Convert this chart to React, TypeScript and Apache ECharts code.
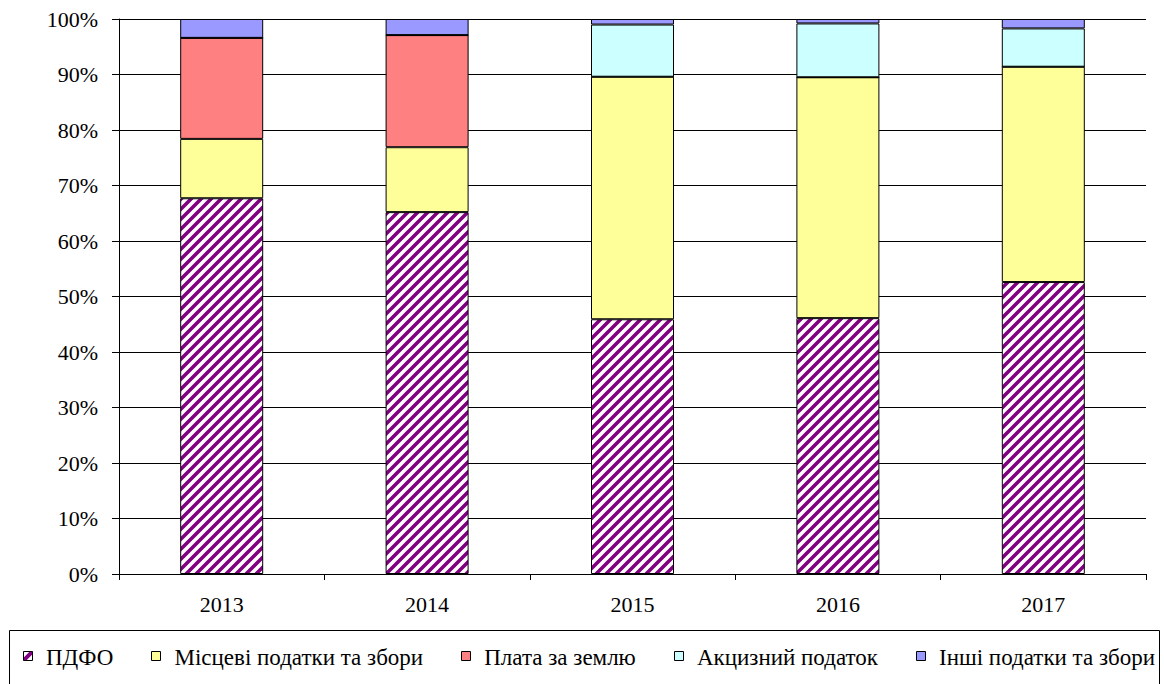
import React, { useEffect, useRef } from "react";
import * as echarts from "echarts";

const years = ["2013", "2014", "2015", "2016", "2017"];
const pdfo = [67.7, 65.2, 45.9, 46.1, 52.6];
const local = [10.7, 11.7, 43.7, 43.4, 38.8];
const land = [18.2, 20.2, 0, 0, 0];
const excise = [0, 0, 9.4, 9.7, 6.9];
const other = [3.4, 2.9, 1.0, 0.8, 1.7];
const seriesNames = [
  "ПДФО",
  "Місцеві податки та збори",
  "Плата за землю",
  "Акцизний податок",
  "Інші податки та збори",
];
const yTicks = [0, 10, 20, 30, 40, 50, 60, 70, 80, 90, 100];

function makeHatch(s: number, lw: number): HTMLCanvasElement {
  const c = document.createElement("canvas");
  c.width = s;
  c.height = s;
  const ctx = c.getContext("2d")!;
  ctx.fillStyle = "#ffffff";
  ctx.fillRect(0, 0, s, s);
  ctx.strokeStyle = "#800080";
  ctx.lineWidth = lw;
  ctx.beginPath();
  for (let k = -1; k <= 1; k++) {
    ctx.moveTo(k * s - 1, s + 1);
    ctx.lineTo(k * s + s + 1, -1);
  }
  ctx.stroke();
  return c;
}

export default function App() {
  const ref = useRef<HTMLDivElement>(null);
  useEffect(() => {
    document.body.style.margin = "0";
    const chart = echarts.init(ref.current!, null, { renderer: "svg" });
    const font = "Liberation Serif";
    const hatch = makeHatch(10, 3.6);
    const legendHatch = makeHatch(12, 4);
    const colors: any[] = [
      { image: hatch, repeat: "repeat" },
      "#FFFF99",
      "#FF8080",
      "#CCFFFF",
      "#9999FF",
    ];
    const dataSets = [pdfo, local, land, excise, other];

    const fontSize = 23;
    const fonts = [
      fontSize + "px Liberation Serif",
      fontSize + "px serif",
      fontSize + "px Times New Roman",
      fontSize + "px Liberation Serif",
      fontSize + "px Liberation Serif",
    ];
    const mctx = document.createElement("canvas").getContext("2d")!;
    mctx.font = fontSize + "px " + font;
    const widths = seriesNames.map((n) => mctx.measureText(n).width);
    const startX = 23;
    const endX = 1155;
    const marker = 9;
    const textGap = 14;
    const sumW = widths.reduce((a, b) => a + b, 0);
    const itemGap = (endX - startX - seriesNames.length * (marker + textGap) - sumW) / (seriesNames.length - 1);
    const legendEls: any[] = [];
    let cx = startX;
    seriesNames.forEach((n, i) => {
      legendEls.push({
        type: "rect",
        shape: { x: Math.round(cx) + 0.5, y: 651.5, width: marker, height: marker },
        style: {
          fill: i === 0 ? { image: legendHatch, repeat: "repeat" } : colors[i],
          stroke: "#000",
          lineWidth: 1,
        },
        silent: true,
      });
      const st: any = {
        text: n,
        font: fonts[i],
        fill: "#000",
        backgroundColor: "#fff",
      };
      if (i === 4) {
        delete st.font;
        st.fontFamily = "Liberation Serif";
        st.fontSize = fontSize;
      }
      legendEls.push({
        type: "text",
        x: cx + marker + textGap,
        y: 646,
        z: 100,
        style: st,
      });
      cx += marker + textGap + widths[i] + itemGap;
    });

    chart.setOption({
      animation: false,
      textStyle: { fontFamily: font },
      grid: { left: 119, right: 18, top: 19, bottom: 110 },
      legend: { show: false, data: seriesNames },
      graphic: [
        {
          type: "rect",
          shape: { x: 9.5, y: 630.5, width: 1150, height: 70 },
          style: { fill: "none", stroke: "#000", lineWidth: 1 },
          silent: true,
        },
        ...legendEls,
      ],
      xAxis: {
        type: "category",
        data: years,
        axisLine: { lineStyle: { color: "#000", width: 1 } },
        axisTick: { show: true, length: 6, lineStyle: { color: "#000" } },
        axisLabel: { color: "#000", fontSize: 22, fontFamily: font, margin: 19 },
      },
      yAxis: {
        type: "value",
        min: 0,
        max: 100,
        interval: 10,
        axisLine: { show: true, lineStyle: { color: "#000", width: 1 } },
        axisTick: { show: true, length: 7, lineStyle: { color: "#000" } },
        axisLabel: {
          color: "#000",
          fontSize: 22,
          fontFamily: font,
          margin: 21,
          formatter: (v: number) => (yTicks.includes(v) ? v + "%" : ""),
        },
        splitLine: { show: true, lineStyle: { color: "#000", width: 1 } },
      },
      series: seriesNames.map((n, i) => ({
        name: n,
        type: "bar",
        stack: "total",
        barWidth: 83,
        data: dataSets[i],
        itemStyle: { color: colors[i], borderColor: "#000", borderWidth: 1 },
      })),
    });
    return () => chart.dispose();
  }, []);
  return <div ref={ref} style={{ width: 1164, height: 684 }} />;
}
